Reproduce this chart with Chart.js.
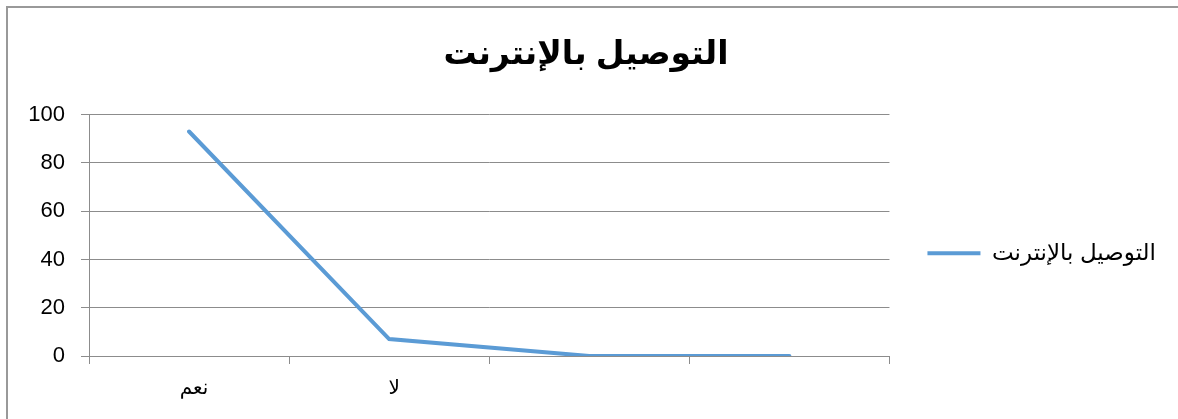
<!DOCTYPE html>
<html>
<head>
<meta charset="utf-8">
<script src="https://cdn.jsdelivr.net/npm/chart.js@4"></script>
<style>
  html, body { margin: 0; padding: 0; background: #fff; overflow: hidden; }
  #wrap { position: absolute; left: 0; top: 0; width: 1178px; height: 419px; }
  #frame { position: absolute; left: 6px; top: 6px; width: 1200px; height: 440px; border-left: 2px solid #999; border-top: 2px solid #999; box-sizing: border-box; pointer-events: none; }
</style>
</head>
<body>
<div id="wrap"><canvas id="c" width="1178" height="419"></canvas><div id="frame"></div></div>
<script>
const chartTitle = 'التوصيل بالإنترنت';
const seriesName = 'التوصيل بالإنترنت';
const categories = ['نعم', 'لا', '', ''];
const seriesValues = [93, 7, 0, 0];
const yTicks = [0, 20, 40, 60, 80, 100];

const lineColor = '#5B9BD5';
const gridColor = '#8c8c8c';
const fontFamily = "'Liberation Sans', Arial, 'DejaVu Sans', sans-serif";

new Chart(document.getElementById('c'), {
  type: 'line',
  data: {
    labels: categories,
    datasets: [{
      label: seriesName,
      data: seriesValues,
      borderColor: lineColor,
      backgroundColor: lineColor,
      borderWidth: 4,
      pointRadius: 0,
      tension: 0,
      borderCapStyle: 'round'
    }]
  },
  options: {
    responsive: false,
    animation: false,
    layout: { padding: { left: 6, top: 6, right: 12, bottom: 0 } },
    plugins: {
      title: {
        display: true,
        text: chartTitle,
        color: '#000',
        font: { family: fontFamily, size: 33, weight: 'bold', lineHeight: 1.2 },
        padding: { top: 29, bottom: 40 }
      },
      legend: {
        display: true,
        position: 'right',
        align: 'center',
        title: { display: true, text: ' ', padding: { top: 48, bottom: 0 }, font: { size: 28, lineHeight: 1.2 } },
        labels: {
          color: '#000',
          font: { family: fontFamily, size: 23 },
          boxWidth: 53,
          boxHeight: 4,
          padding: 38,
          generateLabels: (chart) => Chart.defaults.plugins.legend.labels.generateLabels(chart).map(l => Object.assign(l, { lineWidth: 0, fillStyle: lineColor, strokeStyle: lineColor }))
        }
      },
      tooltip: { enabled: false }
    },
    scales: {
      x: {
        type: 'category',
        offset: true,
        grid: { display: true, offset: true, drawOnChartArea: false, drawTicks: true, tickLength: 8, color: gridColor },
        border: { color: gridColor, width: 1 },
        ticks: { color: '#000', font: { family: fontFamily, size: 20 }, padding: 12, labelOffset: 5, maxRotation: 0, autoSkip: false },
        afterFit: (s) => { s.height = 63; }
      },
      y: {
        min: 0,
        max: 100,
        afterBuildTicks: (s) => { s.ticks = yTicks.map(v => ({ value: v })); },
        grid: { color: gridColor, tickLength: 8, drawTicks: true },
        border: { color: gridColor, width: 1 },
        ticks: { color: '#000', font: { family: fontFamily, size: 22 }, padding: 16 },
        afterFit: (s) => { s.width = 83; }
      }
    }
  }
});
</script>
</body>
</html>
